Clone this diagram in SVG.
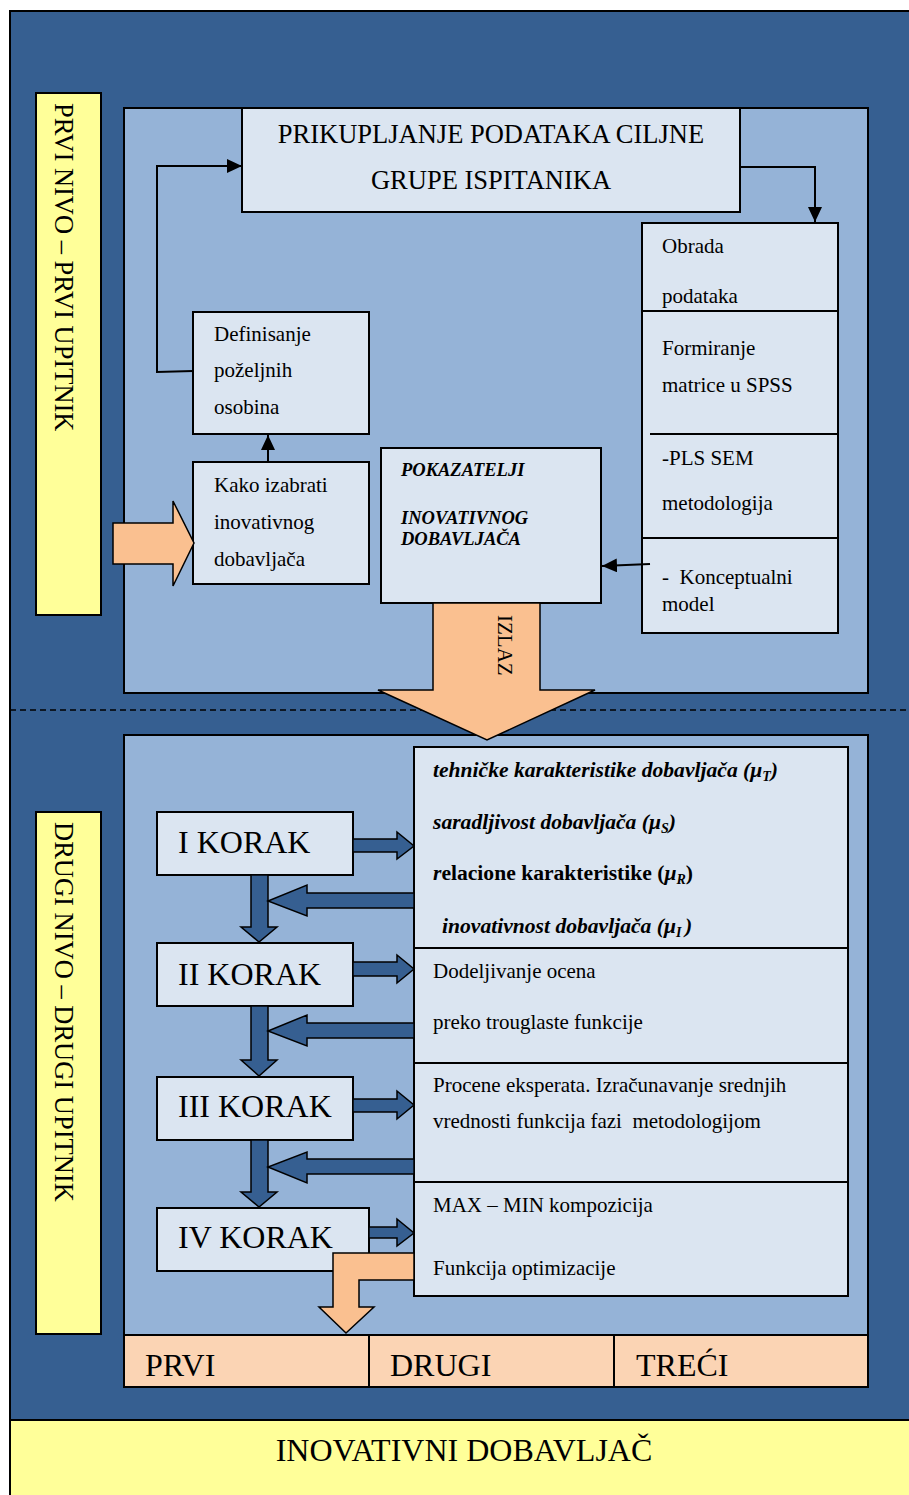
<svg xmlns="http://www.w3.org/2000/svg" width="909" height="1495" viewBox="0 0 909 1495">
  <style>
    .t { font-family: "Liberation Serif", "Times New Roman", serif; fill: #000; }
    .s21 { font-size: 21px; }
    .s22 { font-size: 21.6px; }
    .s26 { font-size: 26.5px; }
    .s32 { font-size: 32px; }
    .bi { font-weight: bold; font-style: italic; }
    .b { font-weight: bold; }
    .box { fill: #DBE5F1; stroke: #000; stroke-width: 2; }
    .panel { fill: #95B3D7; stroke: #000; stroke-width: 2; }
    .label { fill: #FFFF99; stroke: #000; stroke-width: 2; }
    .blk { fill: #365F91; stroke: #000; stroke-width: 1.5; stroke-linejoin: miter; }
    .org { fill: #FAC090; stroke: #000; stroke-width: 1.5; }
    .line { fill: none; stroke: #000; stroke-width: 2; }
    .div { stroke: #000; stroke-width: 2; }
  </style>
  <defs>
    <marker id="head" markerUnits="userSpaceOnUse" markerWidth="16" markerHeight="14" refX="15" refY="7" orient="auto">
      <path d="M0,0 L15,7 L0,14 z" fill="#000"/>
    </marker>
  </defs>

  <!-- background frame -->
  <rect x="10" y="11" width="902" height="1409" fill="#365F91" stroke="#000" stroke-width="2"/>
  <rect x="10" y="1420" width="902" height="80" fill="#FFFF99" stroke="#000" stroke-width="2"/>
  <text class="t s32" x="464" y="1461" text-anchor="middle">INOVATIVNI DOBAVLJAČ</text>

  <!-- level labels -->
  <g id="level-1">
    <rect class="label" x="36" y="93" width="65" height="522"/>
    <text class="t s26" transform="translate(55,103) rotate(90)">PRVI NIVO – PRVI UPITNIK</text>
  </g>
  <g id="level-2">
    <rect class="label" x="36" y="812" width="65" height="522"/>
    <text class="t s26" transform="translate(55,822) rotate(90)">DRUGI NIVO – DRUGI UPITNIK</text>
  </g>

  <!-- panels -->
  <rect class="panel" x="124" y="108" width="744" height="585"/>
  <rect class="panel" x="124" y="735" width="744" height="600"/>
  <line x1="10" y1="710" x2="909" y2="710" stroke="#000" stroke-width="1.6" stroke-dasharray="6,4"/>

  <!-- upper level nodes -->
  <g id="prikupljanje">
    <rect class="box" x="242" y="108" width="498" height="104"/>
    <text class="t s26" x="491" y="143" text-anchor="middle">PRIKUPLJANJE PODATAKA CILJNE</text>
    <text class="t s26" x="491" y="189" text-anchor="middle">GRUPE ISPITANIKA</text>
  </g>

  <g id="obrada">
    <rect class="box" x="642" y="223" width="196" height="410"/>
    <line class="div" x1="642" y1="311" x2="838" y2="311"/>
    <line class="div" x1="650" y1="434" x2="838" y2="434"/>
    <line class="div" x1="642" y1="538" x2="838" y2="538"/>
    <text class="t s21" x="662" y="253">Obrada</text>
    <text class="t s21" x="662" y="303">podataka</text>
    <text class="t s21" x="662" y="355">Formiranje</text>
    <text class="t s21" x="662" y="392">matrice u SPSS</text>
    <text class="t s21" x="662" y="465">-PLS SEM</text>
    <text class="t s21" x="662" y="510">metodologija</text>
    <text class="t s21" x="662" y="584" style="white-space:pre">-  Konceptualni</text>
    <text class="t s21" x="662" y="611">model</text>
  </g>

  <g id="definisanje">
    <rect class="box" x="193" y="312" width="176" height="122"/>
    <text class="t s21" x="214" y="341">Definisanje</text>
    <text class="t s21" x="214" y="377">poželjnih</text>
    <text class="t s21" x="214" y="414">osobina</text>
  </g>

  <g id="kako">
    <rect class="box" x="193" y="462" width="176" height="122"/>
    <text class="t s21" x="214" y="492">Kako izabrati</text>
    <text class="t s21" x="214" y="529">inovativnog</text>
    <text class="t s21" x="214" y="566">dobavljača</text>
  </g>

  <g id="pokazatelji">
    <rect class="box" x="381" y="448" width="220" height="155"/>
    <text class="t bi" font-size="18.5" x="401" y="476">POKAZATELJI</text>
    <text class="t bi" font-size="18.5" x="401" y="524">INOVATIVNOG</text>
    <text class="t bi" font-size="18.5" x="401" y="545">DOBAVLJAČA</text>
  </g>

  <!-- lower level nodes -->
  <g id="kriterijumi">
    <rect class="box" x="414" y="747" width="434" height="549"/>
    <line class="div" x1="414" y1="948" x2="848" y2="948"/>
    <line class="div" x1="414" y1="1063" x2="848" y2="1063"/>
    <line class="div" x1="414" y1="1182" x2="848" y2="1182"/>
    <text class="t s22 bi" x="433" y="777">tehničke karakteristike dobavljača (μ<tspan font-size="14" dy="4">T</tspan><tspan dy="-4">)</tspan></text>
    <text class="t s22 bi" x="433" y="829">saradljivost dobavljača (μ<tspan font-size="14" dy="4">S</tspan><tspan dy="-4">)</tspan></text>
    <text class="t s22 b" x="433" y="880"><tspan font-style="italic">r</tspan>elacione karakteristike (<tspan font-style="italic">μ</tspan><tspan font-style="italic" font-size="14" dy="4">R</tspan><tspan dy="-4">)</tspan></text>
    <text class="t s22 bi" x="442" y="933" style="white-space:pre">inovativnost dobavljača (μ<tspan font-size="14" dy="4">I </tspan><tspan dy="-4">)</tspan></text>
    <text class="t s21" x="433" y="978">Dodeljivanje ocena</text>
    <text class="t s21" x="433" y="1029">preko trouglaste funkcije</text>
    <text class="t s21" x="433" y="1092">Procene eksperata. Izračunavanje srednjih</text>
    <text class="t s21" x="433" y="1128" style="white-space:pre">vrednosti funkcija fazi  metodologijom</text>
    <text class="t s21" x="433" y="1212">MAX – MIN kompozicija</text>
    <text class="t s21" x="433" y="1275">Funkcija optimizacije</text>
  </g>

  <g id="korak-1">
    <rect class="box" x="157" y="812" width="196" height="63"/>
    <text class="t s32" x="178" y="853">I KORAK</text>
  </g>
  <g id="korak-2">
    <rect class="box" x="157" y="943" width="196" height="63"/>
    <text class="t s32" x="178" y="985">II KORAK</text>
  </g>
  <g id="korak-3">
    <rect class="box" x="157" y="1077" width="196" height="63"/>
    <text class="t s32" x="178" y="1117">III KORAK</text>
  </g>
  <g id="korak-4">
    <rect class="box" x="157" y="1208" width="212" height="63"/>
    <text class="t s32" x="178" y="1248">IV KORAK</text>
  </g>

  <g id="rezultat">
    <rect x="124" y="1335" width="744" height="52" fill="#FBD4B4" stroke="#000" stroke-width="2"/>
    <line class="div" x1="369" y1="1335" x2="369" y2="1387"/>
    <line class="div" x1="614" y1="1335" x2="614" y2="1387"/>
    <text class="t s32" x="145" y="1376">PRVI</text>
    <text class="t s32" x="390" y="1376">DRUGI</text>
    <text class="t s32" x="636" y="1376">TREĆI</text>
  </g>

  <!-- connectors -->
  <g id="connectors">
    <path class="line" d="M193,371 L157,372 L157,166 L242,166" marker-end="url(#head)"/>
    <path class="line" d="M740,167 L815,167 L815,222" marker-end="url(#head)"/>
    <path class="line" d="M268,462 L268,435" marker-end="url(#head)"/>
    <path class="line" d="M650,564 L602,566" marker-end="url(#head)"/>

    <!-- block arrows between steps -->
    <polygon class="blk" points="353,839 397,839 397,832 414,846 397,859 397,852 353,852"/>
    <polygon class="blk" points="353,962 397,962 397,955 414,969 397,983 397,976 353,976"/>
    <polygon class="blk" points="353,1099 397,1099 397,1091 414,1105 397,1119 397,1112 353,1112"/>
    <polygon class="blk" points="369,1227 397,1227 397,1219 414,1233 397,1246 397,1238 369,1238"/>

    <polygon class="blk" points="251,875 268,875 268,927 277,927 259,942 241,927 251,927"/>
    <polygon class="blk" points="251,1006 268,1006 268,1060 277,1060 259,1076 241,1060 251,1060"/>
    <polygon class="blk" points="251,1140 268,1140 268,1192 277,1192 259,1207 241,1192 251,1192"/>

    <polygon class="blk" points="414,893 307,893 307,885 268,901 307,916 307,908 414,908"/>
    <polygon class="blk" points="414,1023 307,1023 307,1015 268,1031 307,1046 307,1038 414,1038"/>
    <polygon class="blk" points="414,1159 307,1159 307,1152 268,1167 307,1183 307,1174 414,1174"/>

    <!-- orange flow arrows -->
    <polygon class="org" points="113,523 173,523 173,501 194,543 173,586 173,564 113,564"/>
    <polygon class="org" points="433,603 540,603 540,690 595,690 487,740 378,690 433,690"/>
    <polygon class="org" points="414,1253 333,1253 333,1307 319,1307 346,1333 374,1307 359,1307 359,1280 414,1280"/>
  </g>
  <text class="t s21" transform="translate(498,615) rotate(90)">IZLAZ</text>
</svg>
